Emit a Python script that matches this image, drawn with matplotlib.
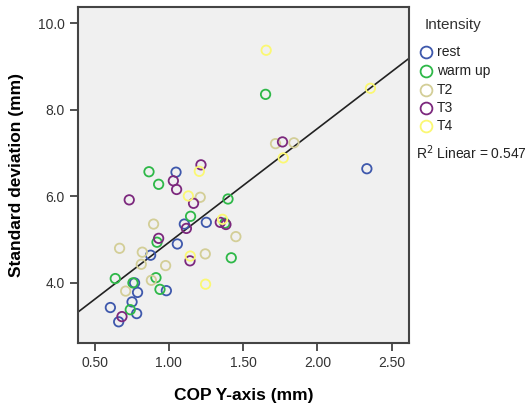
import numpy as np
import matplotlib.pyplot as plt
from matplotlib.lines import Line2D

plt.rcParams['font.family'] = ['Liberation Sans', 'DejaVu Sans']

groups = ['rest', 'warm up', 'T2', 'T3', 'T4']
colors = ['#3E58AC', '#2EB848', '#D3CE97', '#7C287D', '#FBF873']

rest_x = [1.048, 1.104, 1.252, 1.057, 0.877, 0.769, 0.983, 0.789, 0.606, 0.752, 0.783, 0.662, 2.333]
rest_y = [6.56, 5.36, 5.40, 4.90, 4.64, 4.00, 3.82, 3.78, 3.43, 3.56, 3.29, 3.10, 6.64]

warm_x = [1.651, 0.866, 0.931, 1.398, 1.146, 1.377, 0.920, 1.420, 0.639, 0.758, 0.913, 0.940, 0.740]
warm_y = [8.36, 6.57, 6.28, 5.94, 5.54, 5.38, 4.94, 4.58, 4.10, 4.00, 4.12, 3.85, 3.38]

t2_x = [1.718, 1.842, 0.897, 1.211, 0.668, 0.821, 0.814, 0.978, 0.882, 0.709, 1.451, 1.245]
t2_y = [7.22, 7.24, 5.36, 5.98, 4.80, 4.71, 4.43, 4.40, 4.06, 3.81, 5.07, 4.67]

t3_x = [1.765, 0.733, 1.030, 1.052, 1.216, 1.166, 1.118, 1.346, 1.384, 0.931, 1.142, 0.684]
t3_y = [7.26, 5.92, 6.36, 6.16, 6.73, 5.84, 5.26, 5.40, 5.35, 5.03, 4.51, 3.22]

t4_x = [1.655, 2.357, 1.770, 1.205, 1.131, 1.361, 1.144, 1.247]
t4_y = [9.38, 8.50, 6.89, 6.58, 6.01, 5.47, 4.62, 3.97]

xs = [rest_x, warm_x, t2_x, t3_x, t4_x]
ys = [rest_y, warm_y, t2_y, t3_y, t4_y]

W, H = 532, 412
fig = plt.figure(figsize=(W / 100, H / 100), dpi=100)
ax = fig.add_axes([0.1466, 0.1675, 0.622, 0.8155])
ax.set_facecolor('#F0F0F0')

for x, y, c in zip(xs, ys, colors):
    ax.scatter(x, y, s=46, facecolors='none', edgecolors=c, linewidths=1.3, zorder=3)

# linear fit over all points
all_x = np.concatenate([np.array(v) for v in xs])
all_y = np.concatenate([np.array(v) for v in ys])
slope, intercept = np.polyfit(all_x, all_y, 1)
xlim = (0.388, 2.616)
lx = np.array(xlim)
ax.plot(lx, intercept + slope * lx, color='#222222', lw=1.2, zorder=2)

ax.set_xlim(*xlim)
ax.set_ylim(2.61, 10.38)
ax.set_xticks([0.5, 1.0, 1.5, 2.0, 2.5])
ax.set_xticklabels(['0.50', '1.00', '1.50', '2.00', '2.50'])
ax.set_yticks([4, 6, 8, 10])
ax.set_yticklabels(['4.0', '6.0', '8.0', '10.0'])
ax.tick_params(direction='out', length=6, width=1.2, color='#333333', labelsize=10, labelcolor='#333333')

for s in ax.spines.values():
    s.set_color('#444444')
    s.set_linewidth(1.5)

ax.set_xlabel('COP Y-axis (mm)', fontsize=12.5, fontweight='bold', labelpad=13)
ax.set_ylabel('Standard deviation (mm)', fontsize=12.5, fontweight='bold', labelpad=10)

# legend drawn by hand in pixel positions
fig.text(425 / W, 1 - 25 / H, 'Intensity', fontsize=11, color='#333333', va='center', ha='left')
entry_y = [52, 71, 89.5, 107.5, 126]
for name, c, py in zip(groups, colors, entry_y):
    fig.add_artist(Line2D([426 / W], [1 - py / H], marker='o', ls='none', markersize=8.5,
                          markerfacecolor='none', markeredgecolor=c, markeredgewidth=1.3,
                          transform=fig.transFigure))
    fig.text(437 / W, 1 - py / H, name, fontsize=10, color='#222222', va='center', ha='left')

fig.text(416 / W, 1 - 153 / H, 'R$^2$ Linear = 0.547', fontsize=10, color='#222222',
         va='center', ha='left')

fig.savefig('out.png', dpi=100)
